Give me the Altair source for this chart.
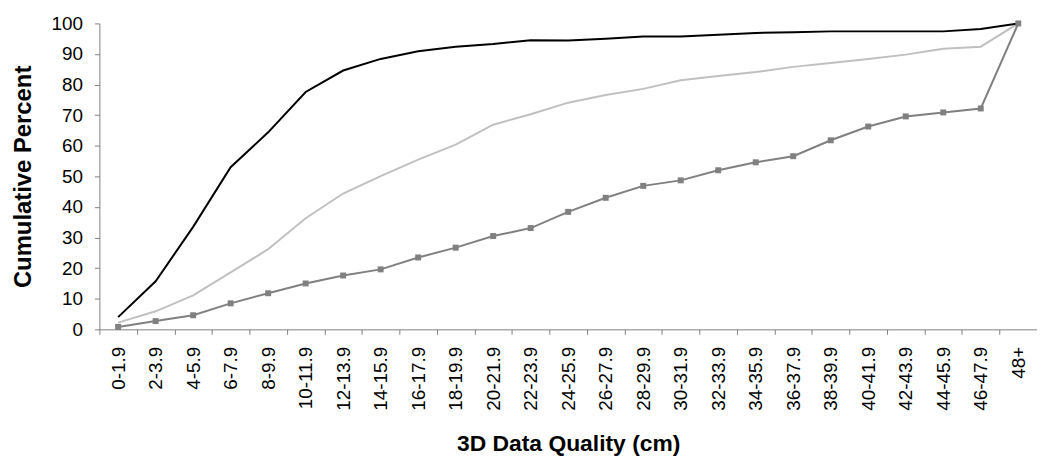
import altair as alt
import pandas as pd

categories = ["0-1.9", "2-3.9", "4-5.9", "6-7.9", "8-9.9", "10-11.9", "12-13.9",
              "14-15.9", "16-17.9", "18-19.9", "20-21.9", "22-23.9", "24-25.9",
              "26-27.9", "28-29.9", "30-31.9", "32-33.9", "34-35.9", "36-37.9",
              "38-39.9", "40-41.9", "42-43.9", "44-45.9", "46-47.9", "48+"]

series_black = [4.0, 15.7, 33.5, 53.0, 64.4, 77.6, 84.6, 88.4, 90.9, 92.4, 93.3, 94.5,
                94.4, 95.0, 95.7, 95.7, 96.3, 96.9, 97.1, 97.4, 97.4, 97.4, 97.4, 98.2, 100]
series_light = [2.2, 5.9, 11.1, 18.6, 26.2, 36.3, 44.4, 50.1, 55.5, 60.4, 66.9, 70.3,
                74.1, 76.6, 78.6, 81.4, 82.8, 84.1, 85.8, 87.1, 88.4, 89.8, 91.7, 92.4, 100]
series_gray = [0.8, 2.7, 4.6, 8.5, 11.8, 15.0, 17.6, 19.6, 23.5, 26.7, 30.5, 33.1,
               38.4, 43.0, 46.9, 48.7, 52.0, 54.6, 56.6, 61.8, 66.3, 69.6, 70.9, 72.2, 100]

series_names = ["Series B", "Series A", "Series C"]
series_colors = ["#C0C0C0", "#000000", "#808080"]

rows = []
for name, vals in zip(series_names, [series_light, series_black, series_gray]):
    for c, v in zip(categories, vals):
        rows.append({"category": c, "value": v, "series": name})
df = pd.DataFrame(rows)

x_enc = alt.X(
    "category:N",
    sort=categories,
    bandPosition=0.5,
    scale=alt.Scale(type="band", paddingInner=0, paddingOuter=0),
    axis=alt.Axis(
        title="3D Data Quality (cm)",
        tickBand="extent",
        labelAngle=270,
        labelAlign="right",
        labelBaseline="middle",
        labelPadding=12,
        tickSize=5,
        labelFontSize=19,
        titleFontSize=23,
        titleBaseline="alphabetic",
        titleY=122,
    ),
)
y_enc = alt.Y(
    "value:Q",
    scale=alt.Scale(domain=[0, 100], nice=False),
    axis=alt.Axis(
        title="Cumulative Percent",
        values=[0, 10, 20, 30, 40, 50, 60, 70, 80, 90, 100],
        tickSize=5,
        labelPadding=12,
        labelFontSize=19,
        titleFontSize=24,
        titleX=-64,
        grid=False,
    ),
)
color_enc = alt.Color(
    "series:N",
    scale=alt.Scale(domain=series_names, range=series_colors),
    legend=None,
)

lines = alt.Chart(df).mark_line(strokeWidth=2).encode(
    x=x_enc, y=y_enc, color=color_enc, order=alt.Order("series:N")
)
points = alt.Chart(df).transform_filter(
    alt.datum.series == "Series C"
).mark_square(size=36, opacity=1, color="#808080").encode(x=x_enc, y=y_enc)

chart = alt.layer(lines, points).properties(
    width=944,
    height=308,
    padding={"left": 92, "top": 14, "right": 0, "bottom": 128},
    autosize=alt.AutoSizeParams(type="none"),
    background="white",
).configure_axis(
    labelFont="Liberation Sans",
    titleFont="Liberation Sans",
    labelColor="#000000",
    titleColor="#000000",
    titleFontWeight="bold",
    domainColor="#808080",
    tickColor="#808080",
    domainWidth=1,
    tickWidth=1,
    grid=False,
).configure_view(stroke="transparent")

chart.save("out.html", embed_options={"renderer": "svg", "actions": False})
